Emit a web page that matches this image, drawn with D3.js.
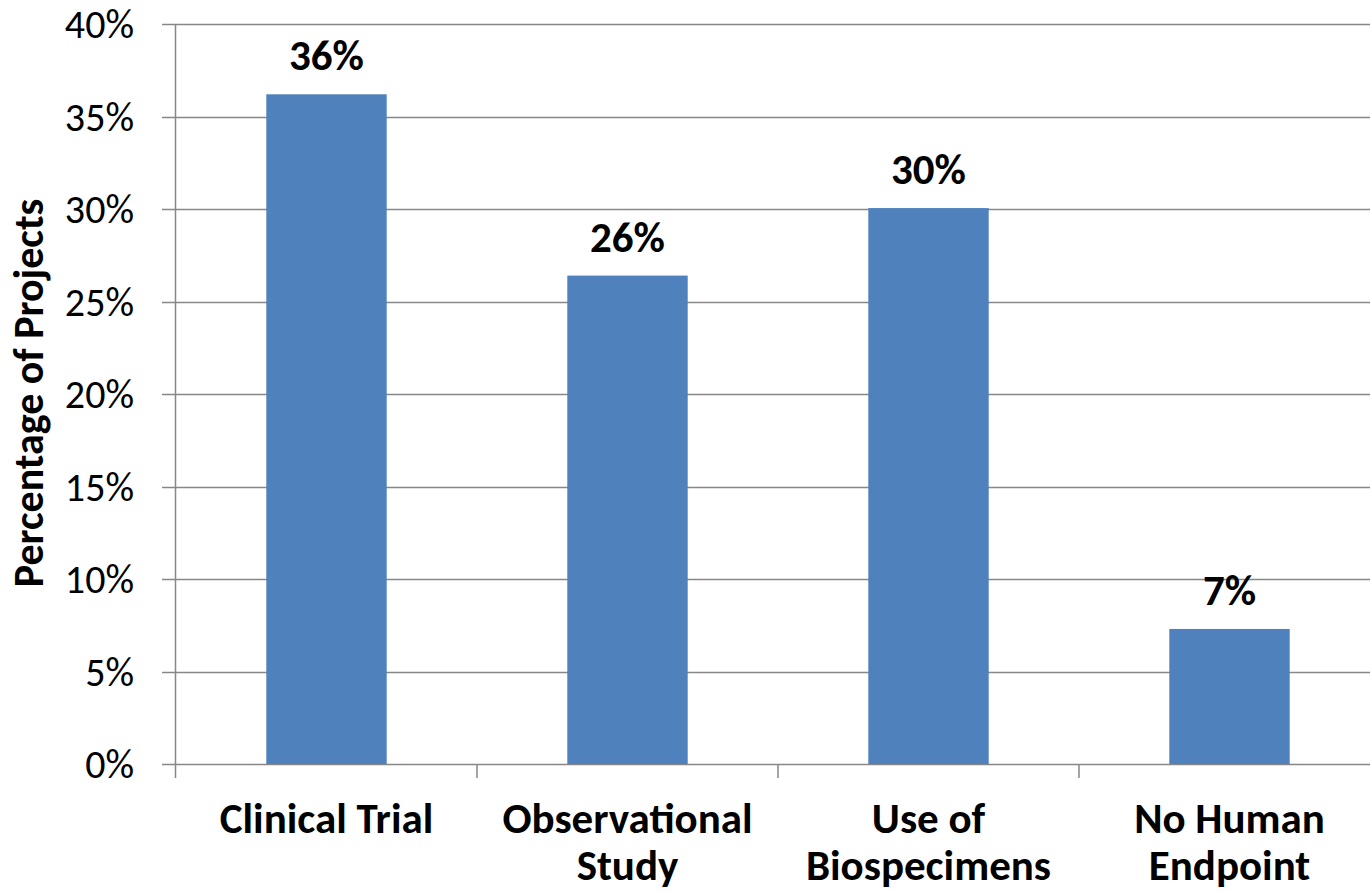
<!DOCTYPE html>
<html>
<head>
<meta charset="utf-8">
<script src="https://cdn.jsdelivr.net/npm/d3@7"></script>
<style>
  html, body { margin: 0; padding: 0; background: #fff; }
  svg { display: block; }
  text { font-family: Carlito, Calibri, Lato, sans-serif; fill: #000; }
</style>
</head>
<body>
<svg id="chart" width="1370" height="893"></svg>
<script>
// Share of projects by study type
const categories = [["Clinical Trial"], ["Observational", "Study"], ["Use of", "Biospecimens"], ["No Human", "Endpoint"]];
const shares = [0.362, 0.264, 0.3005, 0.073];
const yTicks = [0, 0.05, 0.10, 0.15, 0.20, 0.25, 0.30, 0.35, 0.40];
const yTitle = "Percentage of Projects";

const svg = d3.select("#chart");
const margin = { left: 176, top: 24 };
const plotW = 1204, plotH = 740;
const g = svg.append("g").attr("transform", `translate(${margin.left},${margin.top})`);

const keys = categories.map(c => c.join(" "));
const x = d3.scaleBand().domain(keys).range([0, plotW]).padding(0);
const y = d3.scaleLinear().domain([0, 0.40]).range([plotH, 0]);
const barW = x.bandwidth() * 0.4;
const gridColor = "#878787";

// horizontal gridlines with left tick stubs
g.append("g").selectAll("line").data(yTicks).join("line")
  .attr("x1", -14).attr("x2", plotW)
  .attr("y1", d => Math.round(y(d)) + 0.5).attr("y2", d => Math.round(y(d)) + 0.5)
  .attr("stroke", gridColor).attr("stroke-width", 1.5);

// y tick labels
const pct = d3.format(".0%");
g.append("g").selectAll("text").data(yTicks).join("text")
  .attr("x", -42).attr("y", d => y(d))
  .attr("dy", "0.35em").attr("text-anchor", "end")
  .attr("font-size", 40)
  .text(pct);

// bars
g.append("g").selectAll("rect").data(shares).join("rect")
  .attr("x", (d, i) => x(keys[i]) + (x.bandwidth() - barW) / 2)
  .attr("width", barW)
  .attr("y", d => y(d))
  .attr("height", d => y(0) - y(d))
  .attr("fill", "#4F81BD");

// value labels above bars
g.append("g").selectAll("text").data(shares).join("text")
  .attr("x", (d, i) => x(keys[i]) + x.bandwidth() / 2)
  .attr("y", d => y(d) - 24)
  .attr("text-anchor", "middle")
  .attr("font-size", 43).attr("font-weight", "bold")
  .text(pct);

// vertical axis line
g.append("line")
  .attr("x1", -0.5).attr("x2", -0.5)
  .attr("y1", 0).attr("y2", plotH + 14)
  .attr("stroke", gridColor).attr("stroke-width", 1.5);

// x tick marks at category boundaries
g.append("g").selectAll("line").data(keys.slice(1).concat([null])).join("line")
  .attr("x1", d => d === null ? plotW : x(d)).attr("x2", d => d === null ? plotW : x(d))
  .attr("y1", plotH).attr("y2", plotH + 14)
  .attr("stroke", gridColor).attr("stroke-width", 1.5);

// category labels
const cat = g.append("g").selectAll("text").data(categories).join("text")
  .attr("x", (d, i) => x(keys[i]) + x.bandwidth() / 2)
  .attr("y", plotH + 69)
  .attr("text-anchor", "middle")
  .attr("font-size", 43).attr("font-weight", "bold");
cat.selectAll("tspan").data(d => d).join("tspan")
  .attr("x", function () { return this.parentNode.getAttribute("x"); })
  .attr("dy", (d, i) => i === 0 ? 0 : 47)
  .text(d => d);

// y axis title
svg.append("text")
  .attr("transform", `translate(43,${margin.top + 369}) rotate(-90)`)
  .attr("text-anchor", "middle")
  .attr("font-size", 42).attr("font-weight", "bold")
  .text(yTitle);
</script>
</body>
</html>
